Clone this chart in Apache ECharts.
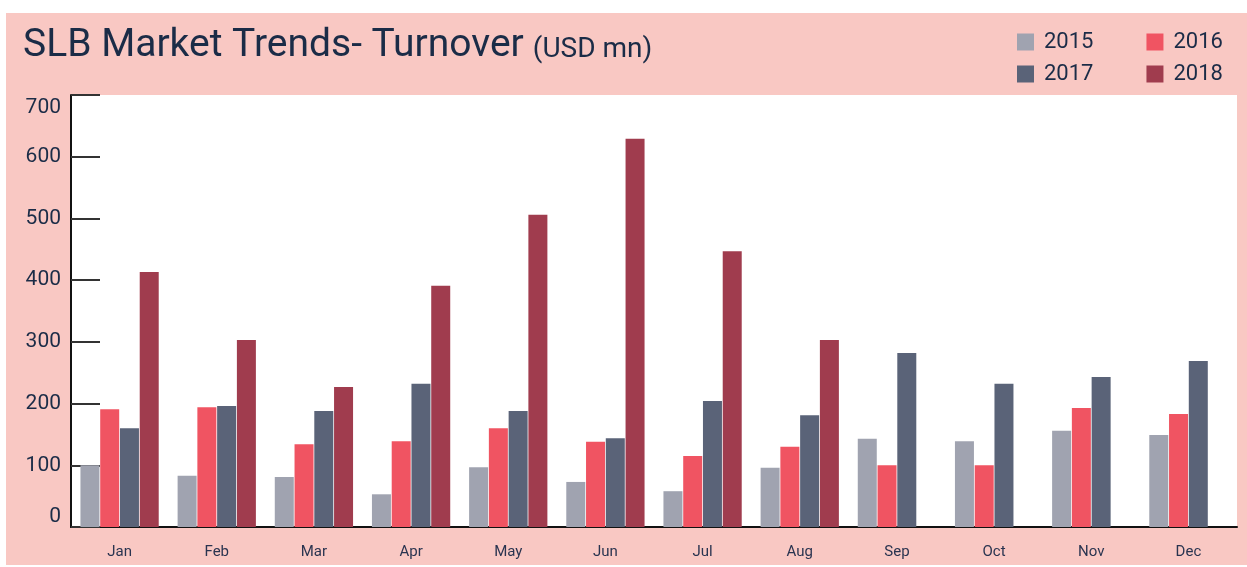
<!DOCTYPE html>
<html>
<head>
<meta charset="utf-8">
<script src="https://cdn.jsdelivr.net/npm/echarts@6/dist/echarts.min.js"></script>
<style>
  html, body { margin: 0; padding: 0; background: #fff; }
  #bg { position: absolute; left: 6px; top: 13px; width: 1241px; height: 552px; background: #f9c8c3; }
  #chart { position: absolute; left: 0; top: 0; width: 1247px; height: 567px; }
</style>
</head>
<body>
<div id="bg"></div>
<div id="chart"></div>
<script>
// months on the x axis
const months = ['Jan', 'Feb', 'Mar', 'Apr', 'May', 'Jun', 'Jul', 'Aug', 'Sep', 'Oct', 'Nov', 'Dec'];

// turnover, USD mn (no 2018 data after Aug)
const y2015 = [100, 83, 81, 53, 97, 73, 58, 96, 143, 139, 156, 149];
const y2016 = [191, 194, 134, 139, 160, 138, 115, 130, 100, 100, 193, 183];
const y2017 = [160, 196, 188, 232, 188, 144, 204, 181, 282, 232, 243, 269];
const y2018 = [413, 303, 227, 391, 506, 629, 447, 303, null, null, null, null];

const yTicks = [0, 100, 200, 300, 400, 500, 600, 700];

const colors = {
  '2015': '#a0a3b0',
  '2016': '#f05462',
  '2017': '#5a6378',
  '2018': '#a03c4e',
};
const navy = '#1b2c47';
const font = 'Roboto';

const chart = echarts.init(document.getElementById('chart'));

function bar(name, data) {
  return {
    name,
    type: 'bar',
    data,
    barWidth: 19,
    barGap: '4%',
    itemStyle: { color: colors[name] },
    animation: false,
  };
}

const legendCommon = {
  itemWidth: 17,
  itemHeight: 17,
  icon: 'rect',
  itemGap: 53,
  textStyle: { color: navy, fontSize: 22, fontFamily: font, padding: [0, 0, 0, 5] },
  selectedMode: false,
};

chart.setOption({
  backgroundColor: 'transparent',
  title: {
    text: '{a|SLB Market Trends- Turnover} {b|(USD mn)}',
    left: 18,
    top: 22,
    textStyle: {
      rich: {
        a: { fontSize: 39, color: navy, fontFamily: font, fontWeight: 'normal' },
        b: { fontSize: 28, color: navy, fontFamily: font, fontWeight: 'normal', padding: [6, 0, 0, 4] },
      },
    },
  },
  legend: [
    Object.assign({ data: ['2015', '2016'], left: 1012, top: 26 }, legendCommon),
    Object.assign({ data: ['2017', '2018'], left: 1012, top: 58 }, legendCommon),
  ],
  grid: {
    left: 71,
    right: 10,
    top: 95,
    bottom: 40,
    show: true,
    backgroundColor: '#fff',
    borderWidth: 0,
  },
  xAxis: {
    type: 'category',
    data: months,
    axisLine: { lineStyle: { color: '#111', width: 2 } },
    axisTick: { inside: true, length: 12, lineStyle: { color: '#111', width: 2 } },
    axisLabel: { color: '#2a3450', fontSize: 15, fontFamily: font, margin: 18 },
  },
  yAxis: {
    type: 'value',
    min: yTicks[0],
    max: yTicks[yTicks.length - 1],
    interval: 100,
    splitLine: { show: false },
    axisLine: { show: true, lineStyle: { color: '#111', width: 2 } },
    axisTick: { show: true, inside: true, length: 29, lineStyle: { color: '#333', width: 2 } },
    axisLabel: {
      color: navy, fontSize: 21, fontFamily: font, margin: 10,
      padding: [2, 0, 0, 0],
      verticalAlignMinLabel: 'bottom',
      verticalAlignMaxLabel: 'top',
    },
  },
  series: [
    bar('2015', y2015),
    bar('2016', y2016),
    bar('2017', y2017),
    bar('2018', y2018),
  ],
});
</script>
</body>
</html>
